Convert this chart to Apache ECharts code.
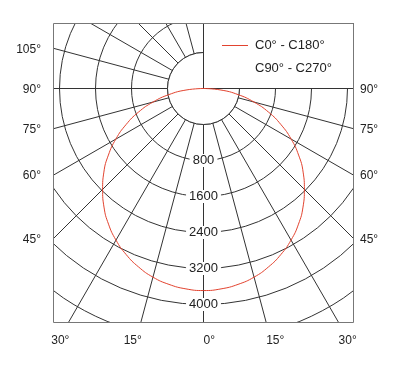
<!DOCTYPE html>
<html><head><meta charset="utf-8">
<script src="https://cdn.jsdelivr.net/npm/echarts@6/dist/echarts.min.js"></script>
<style>html,body{margin:0;padding:0;background:#fff}#c{width:413px;height:384px}</style>
</head><body><div id="c"></div>
<script>
// ---- data ----
const curveAngles = [0, 5, 10, 15, 20, 25, 30, 35, 40, 45, 50, 55, 60, 65, 70, 75, 80, 85, 90];
const c0   = [3690, 3670, 3620, 3540, 3420, 3270, 3090, 2880, 2640, 2370, 2090, 1780, 1450, 1100, 740, 360, -20, -410, -800];
const c180 = [3690, 3670, 3620, 3540, 3420, 3270, 3090, 2880, 2640, 2370, 2090, 1780, 1450, 1100, 740, 360, -20, -410, -800];
const c90  = [3690, 3670, 3620, 3540, 3420, 3270, 3090, 2880, 2640, 2370, 2090, 1780, 1450, 1100, 740, 360, -20, -410, -800];
const c270 = [3690, 3670, 3620, 3540, 3420, 3270, 3090, 2880, 2640, 2370, 2090, 1780, 1450, 1100, 740, 360, -20, -410, -800];
const ringLabels = [800, 1600, 2400, 3200, 4000];
const leftAngleLabels = [105, 90, 75, 60, 45];
const rightAngleLabels = [90, 75, 60, 45];
const bottomAngleLabels = [30, 15, 0, 15, 30];
const legendNames = ['C0° - C180°', 'C90° - C270°'];

// ---- layout ----
const cx = 203.5, cy = 88.5;
const box = { l: 53.5, r: 353.5, t: 23.5, b: 322.5 };
const radiusMin = -800, radiusMax = 5600, ringStep = 800;
const outerR = 288;
const innerR = (0 - radiusMin) * outerR / (radiusMax - radiusMin);
const FONT = "'Liberation Sans',Arial,sans-serif";
const GRID = '#333', BORDER = '#777', RED = '#e2432f', TXT = '#222';

function buildCurve(leftVals, rightVals) {
  const pts = [];
  for (let i = curveAngles.length - 1; i >= 1; i--) pts.push([rightVals[i], 360 - curveAngles[i]]);
  for (let i = 0; i < curveAngles.length; i++) pts.push([leftVals[i], curveAngles[i]]);
  return pts;
}
const rad = d => d * Math.PI / 180;
const graphics = [];
let gid = 0;
function addRect(x, y, w, h, z) {
  graphics.push({ type: 'rect', id: 'r' + (gid++), z: z, silent: true, shape: { x: x, y: y, width: w, height: h }, style: { fill: '#fff', stroke: null } });
}
// white masks outside the frame
addRect(0, 0, 413, box.t, 2);
addRect(0, box.b, 413, 384 - box.b, 2);
addRect(0, 0, box.l, 384, 2);
addRect(box.r, 0, 413 - box.r, 384, 2);
// inner disc
graphics.push({ type: 'circle', id: 'disc', z: 2, silent: true, shape: { cx: cx, cy: cy, r: innerR }, style: { fill: '#fff', stroke: GRID, lineWidth: 1 } });
// legend panel
graphics.push({ type: 'rect', id: 'panel', z: 3, silent: true, shape: { x: cx, y: box.t, width: box.r - cx, height: cy - box.t }, style: { fill: '#fff', stroke: GRID, lineWidth: 1 } });
// frame
graphics.push({ type: 'rect', id: 'frame', z: 5, silent: true, shape: { x: box.l, y: box.t, width: box.r - box.l, height: box.b - box.t }, style: { fill: null, stroke: BORDER, lineWidth: 1 } });
// angle labels
function addText(txt, x, y, align) {
  graphics.push({ type: 'text', id: 't' + (gid++), z: 6, silent: true, x: x, y: y,
    style: { text: txt, fill: TXT, fontSize: 12, fontFamily: FONT, align: align, verticalAlign: 'middle' } });
}
leftAngleLabels.forEach(a => {
  const y = cy + (cx - box.l) * Math.cos(rad(a)) / Math.sin(rad(a));
  addText(a + '°', 41, y + 1, 'right');
});
rightAngleLabels.forEach(a => {
  const y = cy + (box.r - cx) * Math.cos(rad(a)) / Math.sin(rad(a));
  addText(a + '°', 360, y + 1, 'left');
});
bottomAngleLabels.forEach((a, i) => {
  const side = i < 2 ? -1 : 1;
  const x = cx + side * (box.b - cy) * Math.tan(rad(a));
  addText(a + '°', i < 2 ? x + 1 : x, 341, i < 2 ? 'right' : 'left');
});

const chart = echarts.init(document.getElementById('c'), null, { renderer: 'canvas' });
chart.setOption({
  animation: false,
  backgroundColor: '#fff',
  polar: { center: [cx, cy], radius: outerR },
  angleAxis: {
    type: 'value', min: 0, max: 360, interval: 15, startAngle: 270, clockwise: true, z: 0,
    axisLine: { show: false }, axisTick: { show: false }, axisLabel: { show: false },
    splitLine: { show: true, lineStyle: { color: GRID, width: 1 } }
  },
  radiusAxis: {
    type: 'value', min: radiusMin, max: radiusMax, interval: ringStep, z: 1,
    axisLine: { show: false }, axisTick: { show: false },
    splitLine: { show: true, lineStyle: { color: GRID, width: 1 } },
    axisLabel: {
      show: true, margin: 0, rotate: 0, align: 'center', verticalAlign: 'middle',
      formatter: v => ringLabels.includes(v) ? '{a|' + v + '}' : '',
      rich: { a: { backgroundColor: '#fff', padding: [0, 3], fontSize: 13, fontFamily: FONT, color: TXT } }
    }
  },
  legend: {
    orient: 'vertical', left: 222, top: 39, padding: 0, itemWidth: 26, itemHeight: 1, itemGap: 10,
    icon: 'rect', selectedMode: false, z: 8,
    textStyle: { fontSize: 13, fontFamily: FONT, color: TXT, padding: [0, 0, 0, 2] },
    data: [{ name: legendNames[0] }, { name: legendNames[1] }]
  },
  series: [
    { type: 'line', coordinateSystem: 'polar', name: legendNames[1], data: buildCurve(c90, c270), symbol: 'none', smooth: true,
      lineStyle: { color: 'rgba(0,0,0,0)', width: 1 }, itemStyle: { color: 'rgba(0,0,0,0)' }, z: 4, silent: true },
    { type: 'line', coordinateSystem: 'polar', name: legendNames[0], data: buildCurve(c0, c180), symbol: 'none', smooth: true,
      lineStyle: { color: RED, width: 1 }, itemStyle: { color: RED }, z: 4, silent: true }
  ],
  graphic: { elements: graphics }
});
</script></body></html>
